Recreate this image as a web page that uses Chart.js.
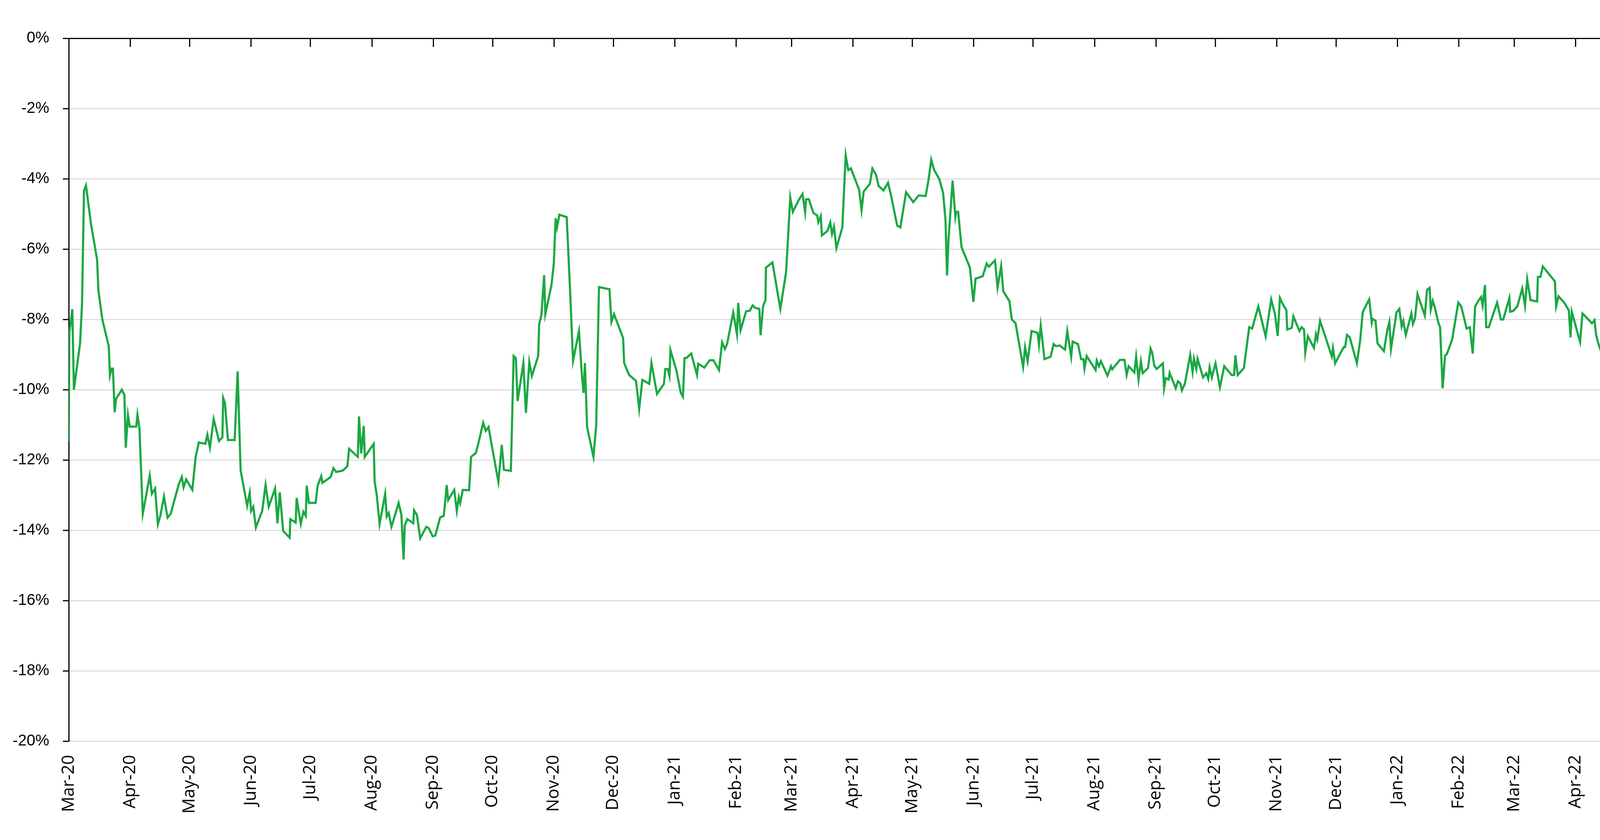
<!DOCTYPE html>
<html lang="en">
<head>
    <meta charset="UTF-8">
    <title>Drawdown</title>
    <script src="https://cdn.jsdelivr.net/npm/chart.js"></script>
    <style>
        html, body {
            margin: 0;
            padding: 0;
            background: #ffffff;
        }
        #wrap {
            width: 5515px;
            height: 2151px;
        }
    </style>
</head>
<body>
    <div id="wrap">
        <canvas id="ddChart" width="5515" height="2151"></canvas>
    </div>

    <script>
        // Month labels on the date axis
        const monthTicks = ['Mar-20', 'Apr-20', 'May-20', 'Jun-20', 'Jul-20', 'Aug-20', 'Sep-20', 'Oct-20', 'Nov-20', 'Dec-20',
            'Jan-21', 'Feb-21', 'Mar-21', 'Apr-21', 'May-21', 'Jun-21', 'Jul-21', 'Aug-21', 'Sep-21', 'Oct-21', 'Nov-21', 'Dec-21',
            'Jan-22', 'Feb-22', 'Mar-22', 'Apr-22', 'May-22', 'Jun-22', 'Jul-22', 'Aug-22', 'Sep-22', 'Oct-22', 'Nov-22', 'Dec-22', 'Jan-23'];

        // Percent tick labels on the value axis
        const yTicks = [0, -2, -4, -6, -8, -10, -12, -14, -16, -18, -20];

        // Days since 1 Mar 2020 for each reading
        const sessionDay = [
            0, 0.3, 1.8, 2.6, 5.7, 6.7, 7.7, 8.7, 11.3, 14.3, 15, 17, 20.2, 20.8, 21.6, 22.3, 23.2, 23.9, 26.8, 28.1,
            28.8, 29.9, 30.8, 34.1, 34.7, 35.7, 37.4, 39, 40.9, 42, 43.6, 45, 46.3, 48.1, 49.9, 51.5, 55.5, 57.1, 58, 59.3,
            62.4, 64.1, 65.7, 69, 70, 71.3, 73.2, 75.9, 77.6, 78, 78.9, 80.4, 83.8, 85.3, 86.8, 90.1, 91.4, 92.1, 93.2, 94.5,
            97.7, 99.4, 101, 104.2, 105.4, 106.6, 108.3, 111.6, 111.9, 114.6, 115.1, 117.2, 118.5, 119.7, 120.2, 121.3, 124.7, 125.7, 127.5, 128.1,
            132.3, 133.7, 135.1, 138.4, 140.7, 141.6, 146, 146.6, 147.7, 149, 149.5, 154, 154.5, 155.6, 157, 159.8, 160.6, 161.6, 163, 166.6,
            168, 169.1, 169.7, 171, 174, 174.4, 175.9, 177.5, 180.6, 181.8, 183.8, 185.1, 187.6, 189.4, 190.9, 191.6, 194.7, 196, 197, 197.7,
            199, 202.2, 203.2, 205.6, 206.7, 209.3, 210.6, 212, 214.5, 217, 218.7, 219.8, 223.3, 224.7, 225.8, 226.7, 229.6, 230.9, 232.6, 233.9,
            237.1, 237.6, 238.7, 240.1, 240.7, 243.8, 245, 245.9, 246.6, 247.8, 251.5, 253.3, 254.7, 257.7, 259.2, 260, 260.7, 261.8, 265, 266.4,
            267.8, 273.1, 274.1, 275.4, 280, 280.5, 283, 286.5, 288.1, 289.7, 293.2, 294.3, 297.1, 300.6, 301.3, 302.5, 303.4, 303.9, 307, 309.1,
            310.2, 311, 312.1, 314.4, 317.3, 317.9, 321, 323.7, 325.6, 328.4, 330, 331.4, 332.5, 335.6, 337.5, 338.1, 339.3, 342.1, 344, 345.4,
            346.7, 348.8, 349.4, 350.7, 351.9, 352.1, 355.4, 359.4, 362.3, 363.1, 364.4, 365.7, 368.8, 370.6, 371.9, 372.4, 373.8, 376.1, 378, 378.6,
            379.8, 380.4, 383.2, 384.6, 385.5, 386.5, 387.7, 390.7, 392.4, 393.7, 395, 399.2, 400.4, 401.5, 404.6, 405.9, 407.8, 409, 411.5, 413.8,
            415.4, 418.4, 420, 422.9, 426.5, 429.3, 432.8, 434.3, 435.6, 437, 439.7, 441.6, 442.8, 443.6, 444.3, 446.4, 447.8, 448.2, 449.2, 450.9,
            455.1, 456.9, 458, 461.6, 463.6, 464.7, 467.8, 469.1, 470.9, 472, 475.1, 476.3, 478.2, 482, 483, 484.3, 486.3, 489.3, 490, 490.9,
            492.8, 495.9, 497.4, 498.6, 500.5, 503.2, 504.3, 506.3, 507, 509.7, 511.3, 512.5, 513, 514.1, 518.6, 519.2, 520.3, 521.3, 524.6, 526.4,
            527, 530.9, 533.2, 534.3, 535.3, 538.2, 539.1, 540.3, 541.5, 542.4, 545.1, 546.4, 547.2, 548.3, 549.5, 552.6, 553.2, 554.1, 555.5, 556,
            559.1, 560.2, 561.4, 562.2, 563.7, 566.4, 567.6, 568.3, 569.5, 570.1, 572.9, 574.5, 575.5, 576.2, 577.3, 579.2, 581.4, 583.6, 587.3, 588.6,
            589.2, 590.4, 593.5, 596.2, 597.7, 600.8, 604.5, 607.3, 609.2, 610.6, 611.7, 613.1, 615, 615.4, 617.7, 618.5, 621.6, 622.7, 623.9, 624.5,
            625.8, 628.9, 629.9, 630.6, 632, 635, 637.9, 638.5, 639.6, 642, 643.9, 644.6, 645.6, 647, 650.6, 652.3, 653.5, 654.6, 656.8, 658.1,
            658.5, 660, 661, 664.2, 666, 667, 667.8, 670.6, 672, 673.2, 674, 675.3, 678.1, 678.9, 679.9, 681.2, 684.9, 686, 687.3, 687.9,
            688.9, 689.9, 691.8, 692.6, 693.9, 695.1, 696, 698.7, 701.8, 703.3, 706, 707.6, 709.1, 710.3, 712.4, 713.3, 714.1, 715.3, 715.9, 717.2,
            721.4, 723.3, 724.5, 727.6, 728, 729.5, 731.6, 734.1, 735.5, 736.6, 738.3, 741.6, 742, 743.3, 744.5, 747.6, 750.6, 751.2, 752.4, 755.3,
            757.6, 758.5, 759.1, 763.3, 764.5, 766.8, 769.3, 770.6, 771.4, 772.5, 776.8, 777.2, 778.7, 779.3, 783.3, 783.6, 784.6, 785.4, 786.4, 787.7,
            790.8, 792.3, 797.3, 798.5, 800.4, 801.8, 805, 805.6, 806.5, 807.8, 808.5, 811.3, 812.9, 814.6, 819.4, 821.1, 821.3, 824.4, 826.9, 827.5,
            828.6, 831.7, 834.8, 836.2, 839, 839.8, 841, 841.5, 842.6, 845.5, 846.9, 847.5, 849.8, 853.1, 853.6, 854.8, 856.2, 856.7, 859.8, 860.9,
            861.7, 862.9, 863.9, 866.3, 867.5, 868.8, 870.8, 873.6, 874.9, 876.2, 878, 882.3, 882.9, 884, 884.8, 887.8, 888.8, 890.2, 892.1, 894.8,
            895.6, 896.9, 898, 900.3, 902.9, 904.8, 905.9, 908.9, 910.2, 910.8, 912.1, 914, 917, 919.3, 920, 922.8, 924.1, 924.9, 927.1, 929.9,
            930.9, 932.2, 933.6, 934, 937, 938, 939.6, 941, 944.2, 945.5, 947.6, 950.9, 952.4, 953.9, 958.2, 959.9, 961.4, 962.5, 965.9, 966.3,
            967.6, 968.2, 969.3, 972.2, 973.5, 975.3, 976.6, 980.2, 983.3, 987.6, 988.2, 989.5, 990.5, 993.8, 995.3, 997, 1002.4, 1003.2, 1004.5, 1009,
            1010.5, 1011.6, 1014.4, 1015.4, 1016.8, 1017.4, 1018.7, 1021.7, 1023.1, 1024.5, 1026.5, 1028.9, 1029.6, 1030.8, 1032.4, 1034.8
        ];

        // Drawdown in percent
        const drawdown = [
            -11.46, -8.39, -7.71, -10.0, -8.69, -7.56, -4.34, -4.19, -5.31, -6.29, -7.19, -8.01, -8.76, -9.59, -9.40, -9.40, -10.64, -10.26, -10.0, -10.15,
            -11.65, -10.71, -11.05, -11.05, -10.71, -11.09, -13.53, -13.04, -12.44, -12.96, -12.81, -13.83, -13.57, -13.04, -13.64, -13.53, -12.70, -12.48, -12.78, -12.55,
            -12.85, -11.91, -11.50, -11.54, -11.28, -11.65, -10.83, -11.46, -11.35, -10.23, -10.38, -11.43, -11.43, -9.48, -12.29, -13.30, -12.93, -13.45, -13.33, -13.92,
            -13.45, -12.71, -13.33, -12.81, -13.80, -12.92, -14.02, -14.21, -13.68, -13.78, -13.08, -13.82, -13.47, -13.59, -12.73, -13.22, -13.22, -12.73, -12.46, -12.65,
            -12.48, -12.23, -12.34, -12.30, -12.18, -11.68, -11.91, -10.76, -11.81, -11.03, -11.91, -11.54, -12.61, -13.02, -13.82, -12.96, -13.61, -13.51, -13.90, -13.22,
            -13.55, -14.83, -13.86, -13.68, -13.80, -13.43, -13.57, -14.23, -13.90, -13.94, -14.17, -14.15, -13.63, -13.59, -12.71, -13.14, -12.85, -13.45, -13.06, -13.22,
            -12.85, -12.86, -11.91, -11.80, -11.57, -10.94, -11.17, -11.06, -11.85, -12.62, -11.57, -12.28, -12.31, -9.04, -9.10, -10.32, -9.24, -10.66, -9.21, -9.61,
            -9.04, -8.13, -7.88, -6.74, -7.85, -7.02, -6.40, -5.12, -5.38, -5.02, -5.09, -7.31, -9.18, -8.33, -9.61, -10.09, -9.24, -11.06, -11.91, -11.0,
            -7.08, -7.14, -8.07, -7.85, -8.53, -9.24, -9.58, -9.75, -10.55, -9.72, -9.83, -9.24, -10.12, -9.83, -9.41, -9.41, -9.61, -8.87, -9.47, -10.09,
            -10.20, -9.10, -9.09, -8.97, -9.58, -9.26, -9.37, -9.16, -9.16, -9.44, -8.65, -8.84, -8.70, -7.80, -8.43, -7.53, -8.31, -7.77, -7.75, -7.60,
            -7.67, -7.70, -8.45, -7.62, -7.45, -6.53, -6.38, -7.70, -6.65, -5.87, -4.53, -4.94, -4.59, -4.43, -4.95, -4.58, -4.58, -4.97, -5.04, -5.23,
            -5.06, -5.61, -5.48, -5.24, -5.57, -5.36, -5.97, -5.38, -3.33, -3.75, -3.70, -4.31, -4.89, -4.36, -4.14, -3.71, -3.89, -4.20, -4.33, -4.11,
            -4.50, -5.33, -5.38, -4.38, -4.66, -4.47, -4.49, -4.01, -3.46, -3.74, -4.01, -4.40, -5.17, -6.75, -5.76, -4.05, -5.08, -4.94, -4.94, -5.94,
            -6.52, -7.50, -6.84, -6.77, -6.41, -6.50, -6.32, -7.09, -6.48, -7.20, -7.48, -8.00, -8.11, -9.35, -8.79, -9.19, -8.33, -8.38, -8.72, -8.18,
            -9.13, -9.06, -8.70, -8.76, -8.74, -8.86, -8.33, -9.06, -8.63, -8.70, -9.13, -9.13, -9.40, -9.04, -9.44, -9.17, -9.33, -9.19, -9.60, -9.33,
            -9.42, -9.15, -9.15, -9.58, -9.33, -9.51, -9.06, -9.71, -9.19, -9.53, -9.38, -8.83, -8.95, -9.32, -9.41, -9.25, -9.96, -9.67, -9.71, -9.52,
            -9.96, -9.76, -9.82, -10.02, -9.83, -9.01, -9.49, -9.12, -9.41, -9.12, -9.65, -9.53, -9.69, -9.36, -9.65, -9.25, -9.93, -9.33, -9.58, -9.58,
            -9.02, -9.58, -9.38, -8.22, -8.26, -7.63, -8.48, -7.43, -7.85, -8.47, -7.39, -7.56, -7.74, -8.29, -8.24, -7.91, -8.33, -8.22, -8.29, -8.95,
            -8.48, -8.81, -8.42, -8.57, -8.04, -8.55, -9.05, -8.81, -9.25, -8.99, -8.79, -8.79, -8.44, -8.51, -9.25, -8.57, -7.80, -7.67, -7.43, -8.09,
            -7.98, -8.04, -8.68, -8.90, -8.29, -8.07, -8.84, -7.80, -7.70, -8.20, -8.04, -8.44, -7.83, -8.13, -7.98, -7.28, -7.89, -7.16, -7.10, -7.72,
            -7.47, -7.65, -8.11, -8.22, -9.96, -9.03, -8.99, -8.57, -7.52, -7.63, -8.26, -8.22, -8.97, -7.63, -7.43, -7.36, -7.61, -7.02, -8.22, -8.22,
            -7.52, -8.00, -8.00, -7.39, -7.78, -7.76, -7.63, -7.12, -7.61, -6.86, -7.45, -7.49, -6.79, -6.79, -6.49, -6.71, -6.92, -7.63, -7.34, -7.52,
            -7.74, -8.51, -7.78, -8.64, -7.83, -7.96, -8.11, -8.02, -8.44, -8.68, -9.38, -7.81, -8.04, -9.05, -8.33, -8.28, -6.85, -7.43, -7.50, -7.23,
            -7.36, -7.02, -7.31, -7.24, -6.61, -7.36, -6.54, -6.48, -5.17, -5.94, -5.43, -4.84, -6.13, -5.09, -6.46, -6.59, -8.02, -8.07, -6.72, -7.70,
            -7.56, -8.07, -7.31, -7.43, -8.54, -7.31, -6.98, -6.31, -6.02, -5.91, -5.83, -6.59, -6.65, -5.96, -6.59, -6.26, -7.09, -6.54, -6.10, -7.02,
            -6.20, -6.41, -7.06, -6.96, -6.69, -6.98, -6.59, -6.94, -7.30, -7.02, -7.70, -6.89, -7.67, -7.54, -8.43, -8.87, -7.85, -8.49, -7.31, -7.54,
            -7.72, -8.49, -7.20, -7.56, -8.61, -7.59, -8.10, -8.40, -9.05, -8.90, -12.04, -10.09, -8.08, -9.43, -8.75, -9.21, -8.96, -9.77, -8.42, -8.21,
            -8.01, -8.29, -8.32, -9.51, -8.57, -8.46, -8.43, -7.87, -7.92, -8.38, -7.50, -7.29, -7.35, -6.60, -6.86, -6.89, -7.87, -7.18, -6.91, -7.51,
            -7.43, -8.02, -7.64, -8.02, -8.89, -6.87, -8.11, -6.87, -8.38, -6.94, -7.58, -7.29, -7.86, -7.89, -7.46, -7.68, -7.56, -7.62, -6.87, -6.80,
            -7.31, -7.17, -7.69, -7.21, -7.21, -6.95, -7.35, -7.12, -7.25, -7.71, -7.71, -7.60, -7.82, -7.82, -7.46, -7.77
        ];

        const monthNames = ['Jan', 'Feb', 'Mar', 'Apr', 'May', 'Jun', 'Jul', 'Aug', 'Sep', 'Oct', 'Nov', 'Dec'];
        const dayMs = 86400000;
        const startMs = Date.UTC(2020, 2, 1);

        // turn "Mar-20" into days since the start date
        function labelToDay(lbl) {
            const parts = lbl.split('-');
            const m = monthNames.indexOf(parts[0]);
            const y = 2000 + parseInt(parts[1]);
            return Math.round((Date.UTC(y, m, 1) - startMs) / dayMs);
        }

        const tickDays = monthTicks.map(labelToDay);

        // small inward tick marks hanging from the 0% line
        const topTickMarks = {
            id: 'topTickMarks',
            afterDatasetsDraw(chart) {
                const x = chart.scales.x;
                const area = chart.chartArea;
                const ctx = chart.ctx;
                ctx.save();
                ctx.strokeStyle = '#000000';
                ctx.lineWidth = 3;
                tickDays.forEach(d => {
                    const px = Math.round(x.getPixelForValue(d)) + 0.5;
                    ctx.beginPath();
                    ctx.moveTo(px, area.top);
                    ctx.lineTo(px, area.top + 22);
                    ctx.stroke();
                });
                ctx.restore();
            }
        };

        document.addEventListener('DOMContentLoaded', function() {
            const points = sessionDay.map((d, i) => ({ x: d, y: drawdown[i] }));

            new Chart(document.getElementById('ddChart').getContext('2d'), {
                type: 'line',
                data: {
                    datasets: [{
                        label: 'Drawdown',
                        data: points,
                        borderColor: '#1BA843',
                        borderWidth: 5.5,
                        pointRadius: 0,
                        tension: 0,
                        fill: false
                    }]
                },
                options: {
                    responsive: false,
                    animation: false,
                    devicePixelRatio: 1,
                    layout: {
                        padding: { top: 98, right: 75, left: 0, bottom: 0 }
                    },
                    plugins: {
                        legend: { display: false },
                        tooltip: { enabled: false }
                    },
                    scales: {
                        x: {
                            type: 'linear',
                            min: tickDays[0],
                            max: tickDays[tickDays.length - 1],
                            border: { display: false },
                            grid: { display: false, drawTicks: false },
                            afterBuildTicks: function(scale) {
                                scale.ticks = tickDays.map(d => ({ value: d }));
                            },
                            afterFit: function(scale) {
                                scale.height = 253;
                            },
                            ticks: {
                                autoSkip: false,
                                maxRotation: 90,
                                minRotation: 90,
                                padding: 35,
                                color: '#000000',
                                font: { family: '"Open Sans", sans-serif', size: 44 },
                                callback: function(value, index) {
                                    return monthTicks[index];
                                }
                            }
                        },
                        y: {
                            min: yTicks[yTicks.length - 1],
                            max: yTicks[0],
                            border: { display: true, color: '#000000', width: 3 },
                            grid: {
                                color: ctx => ctx.tick && ctx.tick.value === 0 ? '#000000' : '#D9D9D9',
                                lineWidth: ctx => ctx.tick && ctx.tick.value === 0 ? 3 : 2.5,
                                tickColor: '#000000',
                                tickWidth: 3,
                                tickLength: 15
                            },
                            afterBuildTicks: function(scale) {
                                scale.ticks = yTicks.slice().reverse().map(v => ({ value: v }));
                            },
                            afterFit: function(scale) {
                                scale.width = 176;
                            },
                            ticks: {
                                padding: 35,
                                color: '#000000',
                                font: { family: '"Liberation Sans", Arial, sans-serif', size: 40 },
                                callback: function(value) {
                                    return (value === 0 ? 0 : value) + '%';
                                }
                            }
                        }
                    }
                },
                plugins: [topTickMarks]
            });
        });
    </script>
</body>
</html>
